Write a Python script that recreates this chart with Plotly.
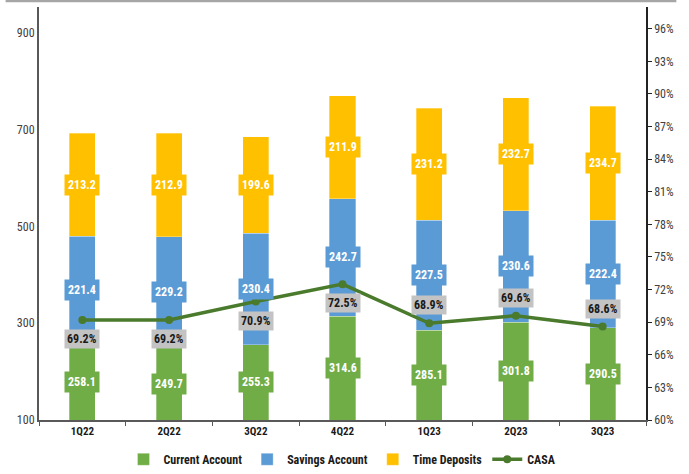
import plotly.graph_objects as go

quarters = ["1Q22", "2Q22", "3Q22", "4Q22", "1Q23", "2Q23", "3Q23"]
current_account = [258.1, 249.7, 255.3, 314.6, 285.1, 301.8, 290.5]
savings_account = [221.4, 229.2, 230.4, 242.7, 227.5, 230.6, 222.4]
time_deposits = [213.2, 212.9, 199.6, 211.9, 231.2, 232.7, 234.7]
casa = [0.692, 0.692, 0.709, 0.725, 0.689, 0.696, 0.686]
casa_label_side = ["below", "below", "below", "below", "above", "above", "above"]

Y_MIN, Y_MAX = 100, 953
Y2_MIN, Y2_MAX = 0.60, 0.98

GREEN = "#70AD47"
BLUE = "#5B9BD5"
YELLOW = "#FFC000"
LINE = "#4A7A2C"
NARROW = "Liberation Sans Narrow, Arial Narrow, Roboto Condensed, Arial, sans-serif"

fig = go.Figure()
for name, vals, col in [("Current Account", current_account, GREEN),
                        ("Savings Account", savings_account, BLUE),
                        ("Time Deposits", time_deposits, YELLOW)]:
    fig.add_trace(go.Bar(x=quarters, y=vals, name="<b>%s</b>" % name, marker_color=col,
                         marker_line=dict(color="rgba(255,255,255,0.6)", width=0.5),
                         width=0.3, hoverinfo="skip"))

fig.add_trace(go.Scatter(x=quarters, y=casa, name="<b>CASA</b>", yaxis="y2", mode="lines+markers",
                         line=dict(color=LINE, width=3.5), marker=dict(size=8, color=LINE)))

ann = []
lab_font = dict(family=NARROW, size=12, color="white")
for i, q in enumerate(quarters):
    g, b, t = current_account[i], savings_account[i], time_deposits[i]
    for yv, val, col in [((Y_MIN + g) / 2, g, GREEN),
                         (g + b / 2, b, BLUE),
                         (g + b + t / 2, t, YELLOW)]:
        ann.append(dict(x=q, y=yv, xref="x", yref="y", text="<b>%.1f</b>" % val,
                        showarrow=False, bgcolor=col, borderpad=3, font=lab_font))
    shift = -19 if casa_label_side[i] == "below" else 18
    ann.append(dict(x=q, y=casa[i], xref="x", yref="y2", text="<b>%.1f%%</b>" % (casa[i] * 100),
                    showarrow=False, bgcolor="#C3C3C3", borderpad=2, yshift=shift,
                    font=dict(family=NARROW, size=12, color="#1a1a1a")))

fig.update_layout(
    width=689, height=474,
    margin=dict(l=39, r=43, t=7, b=54, autoexpand=False),
    paper_bgcolor="white", plot_bgcolor="white",
    barmode="stack",
    showlegend=True,
    legend=dict(orientation="h", x=0.5, xanchor="center", y=-0.06, yanchor="top",
                font=dict(family=NARROW, size=12, color="#1a1a1a"),
                traceorder="normal", itemwidth=30),
    xaxis=dict(type="category", showline=True, linecolor="#595959", linewidth=1.5,
               ticks="outside", tickson="boundaries", ticklen=4, tickcolor="#595959",
               tickfont=dict(family=NARROW, size=11, color="#1a1a1a"),
               tickprefix="<b>", ticksuffix="</b>", showgrid=False, range=[-0.5, 6.5]),
    yaxis=dict(range=[Y_MIN, Y_MAX], tick0=100, dtick=200, showgrid=False, zeroline=False,
               showline=True, linecolor="#595959", linewidth=2, ticks="",
               tickfont=dict(family=NARROW, size=12, color="#404040")),
    yaxis2=dict(range=[Y2_MIN, Y2_MAX], overlaying="y", side="right", tick0=0.60, dtick=0.03,
                tickformat=".0%", showgrid=False, zeroline=False, showline=True,
                linecolor="#222222", linewidth=1.5, ticks="outside", ticklen=4, tickcolor="#222222",
                tickfont=dict(family=NARROW, size=12, color="#404040")),
    annotations=ann,
    shapes=[dict(type="line", xref="paper", yref="paper", x0=-0.055, x1=1.05, y0=1.015, y1=1.015,
                 line=dict(color="#A6A6A6", width=3))],
)

fig.write_html("out.html", config={"displayModeBar": False},
               post_script="document.body.style.margin='0';document.body.style.overflow='hidden';")
